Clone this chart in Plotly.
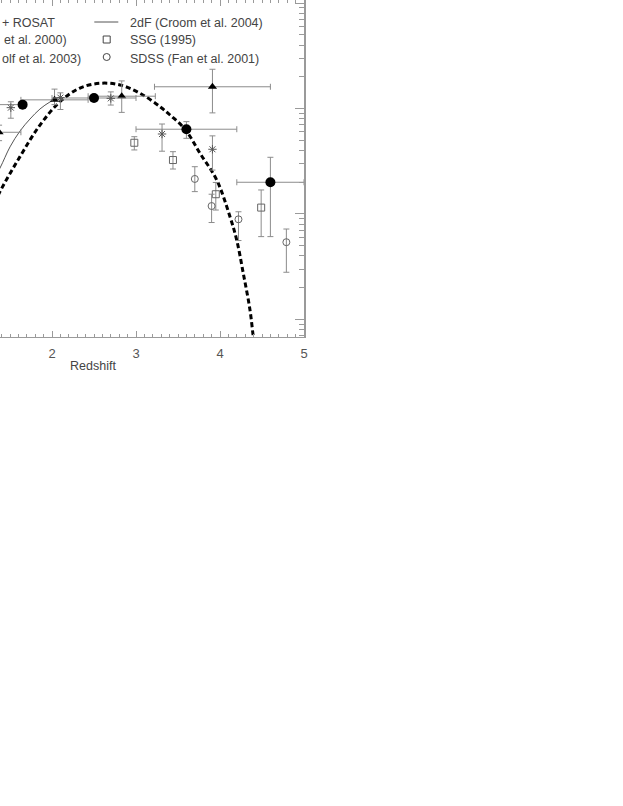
import plotly.graph_objects as go

# ---------------- data (redshift, space density) ----------------
# filled triangles
tri_z = [1.37, 2.03, 2.83, 3.91]
tri_zerr = [0.26, 0.40, 0.40, 0.69]
tri_phi = [5.96e-8, 1.21e-7, 1.31e-7, 1.61e-7]
tri_up = [1.0e-8, 3.2e-8, 5.2e-8, 7.5e-8]
tri_dn = [1.0e-8, 1.2e-8, 3.9e-8, 7.0e-8]

# filled circles (COMBO-17)
cmb_z = [1.65, 2.50, 3.60, 4.60]
cmb_zlo = [0.45, 0.50, 0.60, 0.40]
cmb_zhi = [0.00, 0.50, 0.60, 0.40]
cmb_phi = [1.09e-7, 1.26e-7, 6.37e-8, 2.00e-8]
cmb_up = [5e-9, 5e-9, 1.15e-8, 1.45e-8]
cmb_dn = [5e-9, 5e-9, 1.15e-8, 1.39e-8]

# asterisks
ast_z = [1.51, 2.10, 2.70, 3.31, 3.91]
ast_phi = [1.02e-7, 1.27e-7, 1.25e-7, 5.74e-8, 4.11e-8]
ast_up = [1.4e-8, 1.4e-8, 1.9e-8, 1.4e-8, 1.4e-8]
ast_dn = [2.1e-8, 2.9e-8, 1.7e-8, 1.8e-8, 1.5e-8]

# SSG (1995) open squares
ssg_z = [2.98, 3.44, 3.95, 4.49]
ssg_phi = [4.74e-8, 3.25e-8, 1.54e-8, 1.15e-8]
ssg_up = [6.7e-9, 6.5e-9, 4.5e-9, 5.4e-9]
ssg_dn = [6.9e-9, 5.8e-9, 4.5e-9, 5.4e-9]

# SDSS (Fan et al. 2001) open circles
sdss_z = [3.70, 3.90, 4.22, 4.79]
sdss_phi = [2.15e-8, 1.19e-8, 8.9e-9, 5.4e-9]
sdss_up = [6.6e-9, 3.5e-9, 1.6e-9, 1.8e-9]
sdss_dn = [5.2e-9, 3.6e-9, 3.3e-9, 2.6e-9]

# model curve (thick dashed)
model_z = [1.20, 1.381, 1.619, 1.857, 2.095, 2.333, 2.571, 2.810, 3.048, 3.286,
           3.405, 3.583, 3.762, 3.961, 4.119, 4.199, 4.277, 4.357, 4.396, 4.42]
model_phi = [7.94e-9, 1.63e-8, 3.50e-8, 6.98e-8, 1.161e-7, 1.567e-7, 1.738e-7,
             1.675e-7, 1.396e-7, 1.042e-7, 8.69e-8, 6.37e-8, 3.77e-8, 2.10e-8,
             9.42e-9, 5.66e-9, 2.74e-9, 1.23e-9, 6.85e-10, 5.0e-10]

# 2dF (Croom et al. 2004) curve (thin solid)
croom_z = [1.25, 1.381, 1.50, 1.619, 1.738, 1.857, 1.976, 2.095]
croom_phi = [1.78e-8, 2.73e-8, 4.33e-8, 6.12e-8, 7.96e-8, 9.91e-8, 1.156e-7, 1.288e-7]

x_ticks = [1, 2, 3, 4, 5]
decades = [1e-10, 1e-9, 1e-8, 1e-7, 1e-6, 1e-5]

# ---------------- figure ----------------
EB = "#8c8c8c"
AX = "#9a9a9a"
FONT = "Liberation Sans"

fig = go.Figure()

fig.add_trace(go.Scatter(x=model_z, y=model_phi, mode="lines", line_shape="spline",
                         line=dict(color="black", width=3, dash="5px,3px"), hoverinfo="skip"))
fig.add_trace(go.Scatter(x=croom_z, y=croom_phi, mode="lines", line_shape="spline",
                         line=dict(color="#555555", width=1), hoverinfo="skip"))


def eb(up, dn):
    return dict(type="data", symmetric=False, array=up, arrayminus=dn,
                color=EB, thickness=1, width=3)


fig.add_trace(go.Scatter(x=tri_z, y=tri_phi, mode="markers",
                         marker=dict(symbol="triangle-up", size=8, color="black"),
                         error_y=eb(tri_up, tri_dn),
                         error_x=dict(type="data", array=tri_zerr, color=EB, thickness=1, width=3)))
fig.add_trace(go.Scatter(x=cmb_z, y=cmb_phi, mode="markers",
                         marker=dict(symbol="circle", size=10, color="black"),
                         error_y=eb(cmb_up, cmb_dn),
                         error_x=dict(type="data", symmetric=False, array=cmb_zhi, arrayminus=cmb_zlo,
                                      color=EB, thickness=1, width=3)))
fig.add_trace(go.Scatter(x=ast_z, y=ast_phi, mode="markers",
                         marker=dict(symbol="asterisk-open", size=7, color="#555555",
                                     line=dict(color="#555555", width=1)),
                         error_y=eb(ast_up, ast_dn)))
fig.add_trace(go.Scatter(x=ssg_z, y=ssg_phi, mode="markers",
                         marker=dict(symbol="square-open", size=7, color="#666666",
                                     line=dict(width=1)),
                         error_y=eb(ssg_up, ssg_dn)))
fig.add_trace(go.Scatter(x=sdss_z, y=sdss_phi, mode="markers",
                         marker=dict(symbol="circle-open", size=7, color="#666666",
                                     line=dict(width=1)),
                         error_y=eb(sdss_up, sdss_dn)))

# plot area: 304 x 337 px starting at the top-left corner of the page
PW, PH = 304.0, 337.0


def px(x):
    return x / PW


def py(y):
    return 1 - y / PH


txt = dict(family=FONT, size=12.5, color="#444444")
ann = []
# left legend column (only its right part is inside the picture)
for s, x0, y0 in [("+ ROSAT", 0, 22.5), ("et al. 2000)", 1.7, 40.5), ("olf et al. 2003)", 0, 58.5)]:
    ann.append(dict(text=s, x=px(x0), y=py(y0), xref="paper", yref="paper",
                    xanchor="left", yanchor="middle", showarrow=False, font=txt))
for s, y0 in [("2dF (Croom et al. 2004)", 22.5), ("SSG (1995)", 40.5), ("SDSS (Fan et al. 2001)", 58.5)]:
    ann.append(dict(text=s, x=px(128.3), y=py(y0), xref="paper", yref="paper",
                    xanchor="left", yanchor="middle", showarrow=False, font=txt))
ann.append(dict(text="Redshift", x=px(93), y=py(366), xref="paper", yref="paper",
                xanchor="center", yanchor="middle", showarrow=False, font=txt))

shapes = [
    dict(type="line", xref="paper", yref="paper", x0=px(94.3), x1=px(118.3),
         y0=py(22), y1=py(22), line=dict(color="#555555", width=1)),
    dict(type="rect", xref="paper", yref="paper", xsizemode="pixel", ysizemode="pixel",
         xanchor=px(106.7), yanchor=py(39.5), x0=-3.5, x1=3.5, y0=-3.5, y1=3.5,
         line=dict(color="#444444", width=1)),
    dict(type="circle", xref="paper", yref="paper", xsizemode="pixel", ysizemode="pixel",
         xanchor=px(106.7), yanchor=py(57), x0=-3.5, x1=3.5, y0=-3.5, y1=3.5,
         line=dict(color="#444444", width=1)),
]

minor_y = [d * k for d in decades for k in range(2, 10)]

fig.update_layout(
    width=623, height=806,
    margin=dict(l=0, r=623 - 304, t=0, b=806 - 337, pad=0),
    paper_bgcolor="white", plot_bgcolor="white",
    showlegend=False,
    annotations=ann, shapes=shapes,
    font=dict(family=FONT, color="#444444"),
)
fig.update_xaxes(range=[1.381, 5.0], tickvals=x_ticks, showline=True, linecolor=AX, linewidth=1,
                 mirror="allticks", ticks="inside", ticklen=6, tickcolor=AX, tickwidth=1,
                 minor=dict(dtick=0.1, tick0=0, ticks="inside", ticklen=3, tickcolor=AX, tickwidth=1),
                 showgrid=False, zeroline=False, ticklabelstandoff=4,
                 tickfont=dict(family=FONT, size=13, color="#555555"))
fig.update_yaxes(type="log", range=[-9.167, -5.970], side="right", showline=True, linecolor=AX,
                 linewidth=1.5, ticks="inside", ticklen=9, tickcolor=AX, tickwidth=1,
                 tickvals=decades, showticklabels=False,
                 minor=dict(tickvals=minor_y, ticks="inside", ticklen=5, tickcolor=AX, tickwidth=1),
                 showgrid=False, zeroline=False)

# page without the default 8px body margin so the plot sits at the window's corner
fig.write_html("out.html", config={"displayModeBar": False},
               post_script="document.body.style.margin='0';")
